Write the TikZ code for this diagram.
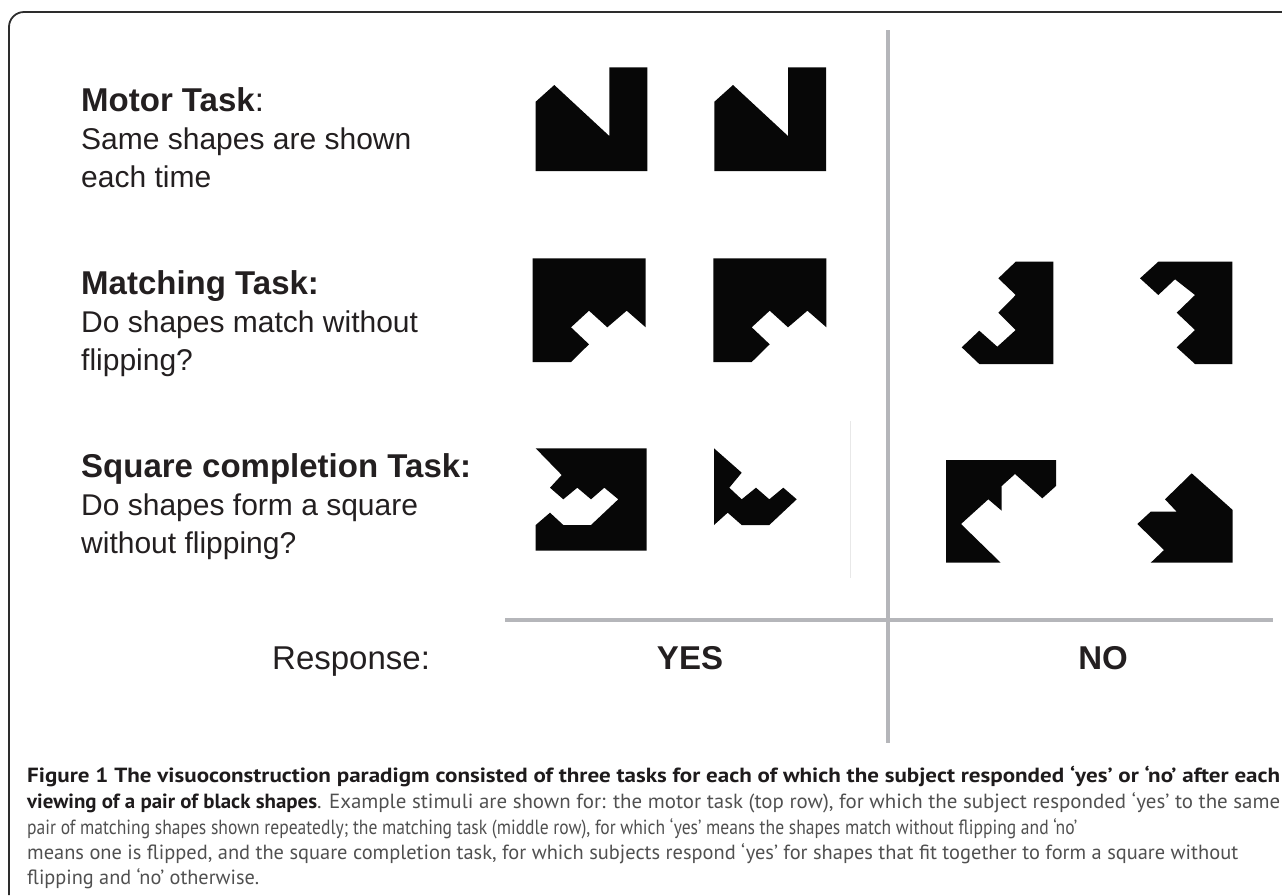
\documentclass[tikz,border=0pt]{standalone}
\usepackage{fontspec}
\setmainfont{Liberation Sans}
\newfontfamily\capfont{PT Sans}
\usepackage{graphicx}
\definecolor{axisgray}{RGB}{181,182,186}
\definecolor{faintgray}{RGB}{232,232,232}
\definecolor{shapeblack}{RGB}{7,7,7}
\definecolor{capgray}{RGB}{80,80,80}
\definecolor{capblack}{RGB}{30,27,28}
\definecolor{framegray}{RGB}{45,45,45}
\definecolor{labelblack}{RGB}{35,31,32}
\newsavebox\capbox
\newcommand\fitcap[2]{\sbox\capbox{#2}\pgfmathsetmacro\capsx{#1pt/\the\wd\capbox}\scalebox{\capsx}[1]{\usebox\capbox}}
\tikzset{
  stim/.style={fill=shapeblack, draw=none},
  axisline/.style={draw=axisgray, line width=4.5pt},
  headtxt/.style={anchor=base west, inner sep=0pt, font=\fontsize{33}{38}\selectfont\bfseries, text=labelblack},
  subtxt/.style={anchor=base west, inner sep=0pt, font=\fontsize{30}{38}\selectfont, text=labelblack},
  resptxt/.style={anchor=base, inner sep=0pt, font=\fontsize{33}{38}\selectfont\bfseries, text=labelblack},
  captxt/.style={anchor=base west, inner sep=0pt, font=\capfont\fontsize{20.5}{26}\selectfont, text=capgray},
}
\begin{document}
\begin{tikzpicture}[x=1pt,y=-1pt]
\useasboundingbox (0,0) rectangle (1282,895);
% frame
\draw[framegray, line width=1.8pt, rounded corners=15pt] (9,895) -- (9,12) -- (1282,12);
% axes
\coordinate (vtop) at (888,30);
\coordinate (vbot) at (888,743);
\coordinate (hleft) at (505,620);
\coordinate (hright) at (1273,620);
\draw[axisline] (vtop) -- (vbot);
\draw[axisline, line width=4pt] (hleft) -- (hright);
\coordinate (ftop) at (850,421);
\coordinate (fbot) at (850,578);
\draw[faintgray, line width=1pt] (ftop) -- (fbot);
% labels
\node[headtxt] (motorh) at (81,111) {Motor Task\mdseries:};
\node[subtxt] (motor1) at (81,149) {Same shapes are shown};
\node[subtxt] (motor2) at (81,187) {each time};
\node[headtxt] (matchh) at (81,294) {Matching Task:};
\node[subtxt] (match1) at (81,332) {Do shapes match without};
\node[subtxt] (match2) at (81,370) {flipping?};
\node[headtxt] (squareh) at (81,477) {Square completion Task:};
\node[subtxt] (square1) at (81,515) {Do shapes form a square};
\node[subtxt] (square2) at (81,553) {without flipping?};
\node[anchor=base west, inner sep=0pt, font=\fontsize{33}{38}\selectfont, text=labelblack] (resp) at (272,669) {Response:};
\node[resptxt] (yes) at (690,669) {YES};
\node[resptxt] (no) at (1103,669) {NO};
% motor shapes
\foreach \dx in {0,178.7}{
  \fill[stim, xshift=\dx] (535.7,101.7) -- (554.3,85) -- (609.3,136) -- (609.3,67.3) -- (647.3,67.3) -- (647.3,171) -- (535.7,171) -- cycle;
}
% matching YES shapes
\foreach \dx in {0,180.7}{
  \fill[stim, xshift=\dx] (532.7,258.3) -- (645.7,258.3) -- (645.7,327.3) -- (626.7,310.7) -- (607.3,327.3) -- (589,310.7) -- (571,327.3) -- (589,344.3) -- (571,362) -- (532.7,362) -- cycle;
}
% matching NO shapes
\fill[stim] (1015.7,261.7) -- (1053.3,261.7) -- (1053.3,364) -- (979.3,364) -- (961.7,347.3) -- (979.3,330.7) -- (997.3,346.7) -- (1015.7,330) -- (998.3,312.7) -- (1015.7,295) -- (998.3,278.3) -- cycle;
\fill[stim] (1158.3,261.7) -- (1232.3,261.7) -- (1232.3,364) -- (1195,364) -- (1176.7,347.3) -- (1195,330) -- (1176.7,312.7) -- (1195,295) -- (1175,279.3) -- (1158.3,295) -- (1140,278.3) -- cycle;
% square completion YES
\fill[stim] (535.7,448.3) -- (646.7,448.3) -- (646.7,550.7) -- (535.7,550.7) -- (535.7,525) -- (550,512.7) -- (563.3,525) -- (591,525) -- (618.3,499.3) -- (604.3,487.7) -- (591,499.3) -- (577.3,487.7) -- (563.3,499.3) -- (550,487.7) -- (561.7,475) -- cycle;
\fill[stim] (714,448.3) -- (741.7,472.7) -- (729.3,487.7) -- (741.7,499.3) -- (756,487.7) -- (769.3,499.3) -- (783.3,487.7) -- (796.7,499.3) -- (769.3,525) -- (741.7,525) -- (727.7,512.7) -- (714,525) -- cycle;
% square completion NO
\fill[stim] (946,460) -- (1056,460) -- (1056,486) -- (1042.3,498.3) -- (1015,474) -- (1001.7,486) -- (1001.7,510.7) -- (988.3,499.3) -- (961,524) -- (1000.7,562.7) -- (946,562.7) -- cycle;
\fill[stim] (1191.7,473.3) -- (1232.7,510) -- (1232.7,562.7) -- (1150.7,562.7) -- (1164,550) -- (1137.3,524) -- (1150.7,511.7) -- (1176.7,511.7) -- (1165,499.3) -- cycle;
% caption
\node[captxt] (cap1) at (27,782) {\fitcap{1253}{\textcolor{capblack}{\bfseries Figure 1 The visuoconstruction paradigm consisted of three tasks for each of which the subject responded ‘yes’ or ‘no’ after each}}};
\node[captxt] (cap2) at (27,808) {\fitcap{1253}{\textcolor{capblack}{\bfseries viewing of a pair of black shapes}. Example stimuli are shown for: the motor task (top row), for which the subject responded ‘yes’ to the same}};
\node[captxt] (cap3) at (27,834) {\fitcap{1050}{pair of matching shapes shown repeatedly; the matching task (middle row), for which ‘yes’ means the shapes match without flipping and ‘no’}};
\node[captxt] (cap4) at (27,859) {\fitcap{1211}{means one is flipped, and the square completion task, for which subjects respond ‘yes’ for shapes that fit together to form a square without}};
\node[captxt] (cap5) at (27,884) {\fitcap{232}{flipping and ‘no’ otherwise.}};
\end{tikzpicture}
\end{document}
